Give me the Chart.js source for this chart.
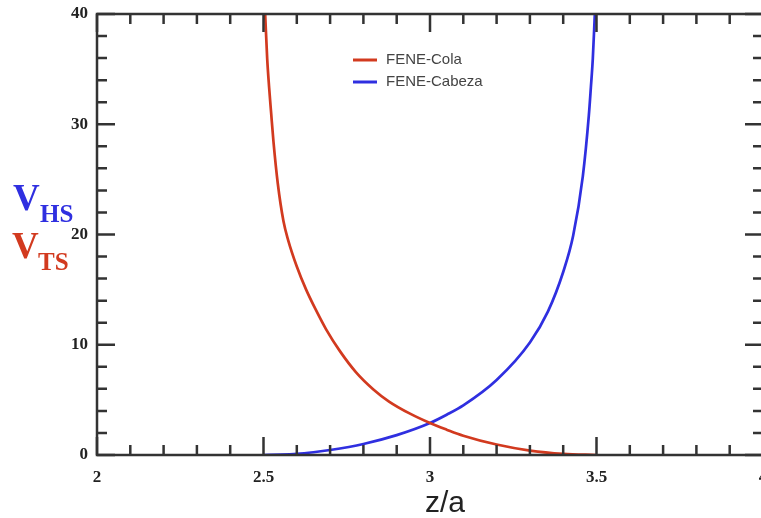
<!DOCTYPE html>
<html>
<head>
<meta charset="utf-8">
<script src="https://cdn.jsdelivr.net/npm/chart.js@4/dist/chart.umd.min.js"></script>
<style>
    html, body { margin: 0; padding: 0; background: #fff; overflow: hidden; }
    #wrap { width: 770px; height: 518px; }
</style>
</head>
<body>
<div id="wrap"><canvas id="feneChart" width="770" height="518"></canvas></div>
<script>
// Datos (z/a, potencial)
const zCola = [2.505, 2.511, 2.517, 2.523, 2.53, 2.543, 2.56, 2.574, 2.6, 2.628, 2.66, 2.688, 2.73, 2.778, 2.83, 2.877, 2.94, 3.0, 3.05, 3.1, 3.2, 3.3, 3.4, 3.5];
const vCola = [40, 36, 33.3, 31, 28.4, 24.6, 21.2, 19.5, 17.1, 15.0, 13.0, 11.4, 9.4, 7.5, 5.95, 4.85, 3.75, 2.9, 2.3, 1.75, 0.95, 0.4, 0.1, 0];

const zCabeza = [2.5, 2.55, 2.6, 2.65, 2.7, 2.8, 2.9, 3.0, 3.05, 3.1, 3.2, 3.3, 3.354, 3.4, 3.43, 3.459, 3.477, 3.483, 3.489, 3.495];
const vCabeza = [0, 0.03, 0.1, 0.25, 0.45, 1.0, 1.8, 2.9, 3.65, 4.5, 6.8, 10.2, 13.0, 16.6, 19.9, 25.3, 30.8, 33.3, 36, 40];

const xTicks = { min: 2, max: 4, step: 0.5, minor: 0.1 };
const yTicks = { min: 0, max: 40, step: 10, minor: 2 };

const colorCola = '#d23a1f';
const colorCabeza = '#2f2fe0';

function puntos(xs, ys) {
    return xs.map(function (x, i) { return { x: x, y: ys[i] }; });
}

// Marco, marcas interiores, títulos y leyenda
const decoracion = {
    id: 'decoracion',
    afterDraw: function (chart) {
        const ctx = chart.ctx;
        const a = chart.chartArea;
        const sx = chart.scales.x;
        const sy = chart.scales.y;
        ctx.save();
        ctx.strokeStyle = '#333';
        ctx.lineWidth = 2.5;
        ctx.strokeRect(a.left, a.top, a.right - a.left, a.bottom - a.top);

        // marcas del eje x
        const nx = Math.round((xTicks.max - xTicks.min) / xTicks.minor);
        const cadaX = Math.round(xTicks.step / xTicks.minor);
        for (let i = 0; i <= nx; i++) {
            const px = sx.getPixelForValue(xTicks.min + i * xTicks.minor);
            const len = i % cadaX === 0 ? 18 : 10;
            ctx.beginPath();
            ctx.moveTo(px, a.bottom); ctx.lineTo(px, a.bottom - len);
            ctx.moveTo(px, a.top); ctx.lineTo(px, a.top + len);
            ctx.stroke();
        }
        // marcas del eje y
        const ny = Math.round((yTicks.max - yTicks.min) / yTicks.minor);
        const cadaY = Math.round(yTicks.step / yTicks.minor);
        for (let i = 0; i <= ny; i++) {
            const py = sy.getPixelForValue(yTicks.min + i * yTicks.minor);
            const len = i % cadaY === 0 ? 18 : 10;
            ctx.beginPath();
            ctx.moveTo(a.left, py); ctx.lineTo(a.left + len, py);
            ctx.moveTo(a.right, py); ctx.lineTo(a.right - len, py);
            ctx.stroke();
        }

        // título eje y
        ctx.textAlign = 'left';
        ctx.textBaseline = 'alphabetic';
        ctx.fillStyle = colorCabeza;
        ctx.font = 'bold 37px "Liberation Serif"';
        ctx.fillText('V', 13, 210);
        ctx.font = 'bold 25px "Liberation Serif"';
        ctx.fillText('HS', 40, 222);
        ctx.fillStyle = colorCola;
        ctx.font = 'bold 37px "Liberation Serif"';
        ctx.fillText('V', 12, 258);
        ctx.font = 'bold 25px "Liberation Serif"';
        ctx.fillText('TS', 38, 270);

        // título eje x
        ctx.fillStyle = '#222';
        ctx.textAlign = 'center';
        ctx.font = '30px "Liberation Sans"';
        ctx.fillText('z/a', 445, 512);

        // leyenda
        ctx.textAlign = 'left';
        ctx.textBaseline = 'middle';
        ctx.font = '15px "Liberation Sans"';
        chart.data.datasets.forEach(function (ds, i) {
            const y = 60 + i * 22;
            ctx.strokeStyle = ds.borderColor;
            ctx.lineWidth = 3;
            ctx.beginPath();
            ctx.moveTo(353, y); ctx.lineTo(377, y);
            ctx.stroke();
            ctx.fillStyle = '#444';
            ctx.fillText(ds.label, 386, y);
        });
        ctx.restore();
    }
};

const ctx = document.getElementById('feneChart').getContext('2d');
new Chart(ctx, {
    type: 'scatter',
    data: {
        datasets: [{
            label: 'FENE-Cola',
            data: puntos(zCola, vCola),
            borderColor: colorCola,
            showLine: true,
            borderWidth: 2.7,
            pointRadius: 0,
            cubicInterpolationMode: 'monotone'
        }, {
            label: 'FENE-Cabeza',
            data: puntos(zCabeza, vCabeza),
            borderColor: colorCabeza,
            showLine: true,
            borderWidth: 2.7,
            pointRadius: 0,
            cubicInterpolationMode: 'monotone'
        }]
    },
    options: {
        responsive: false,
        animation: false,
        layout: { padding: { left: 0, top: 14, right: 7, bottom: 0 } },
        plugins: {
            legend: { display: false },
            tooltip: { enabled: false }
        },
        scales: {
            x: {
                type: 'linear',
                min: xTicks.min,
                max: xTicks.max,
                grid: { display: false, drawTicks: false },
                border: { display: false },
                ticks: {
                    stepSize: xTicks.step,
                    padding: 12,
                    maxRotation: 0,
                    color: '#222',
                    font: { family: '"Liberation Serif"', size: 17, weight: 'bold' },
                    callback: function (value) { return String(Number(value.toFixed(2))); }
                },
                afterFit: function (scale) {
                    scale.height = 63;
                    scale.paddingLeft = 0;
                    scale.paddingRight = 0;
                }
            },
            y: {
                min: yTicks.min,
                max: yTicks.max,
                grid: { display: false, drawTicks: false },
                border: { display: false },
                ticks: {
                    stepSize: yTicks.step,
                    padding: 9,
                    color: '#222',
                    font: { family: '"Liberation Serif"', size: 17, weight: 'bold' }
                },
                afterFit: function (scale) {
                    scale.width = 97;
                    scale.paddingTop = 0;
                    scale.paddingBottom = 0;
                }
            }
        }
    },
    plugins: [decoracion]
});
</script>
</body>
</html>
